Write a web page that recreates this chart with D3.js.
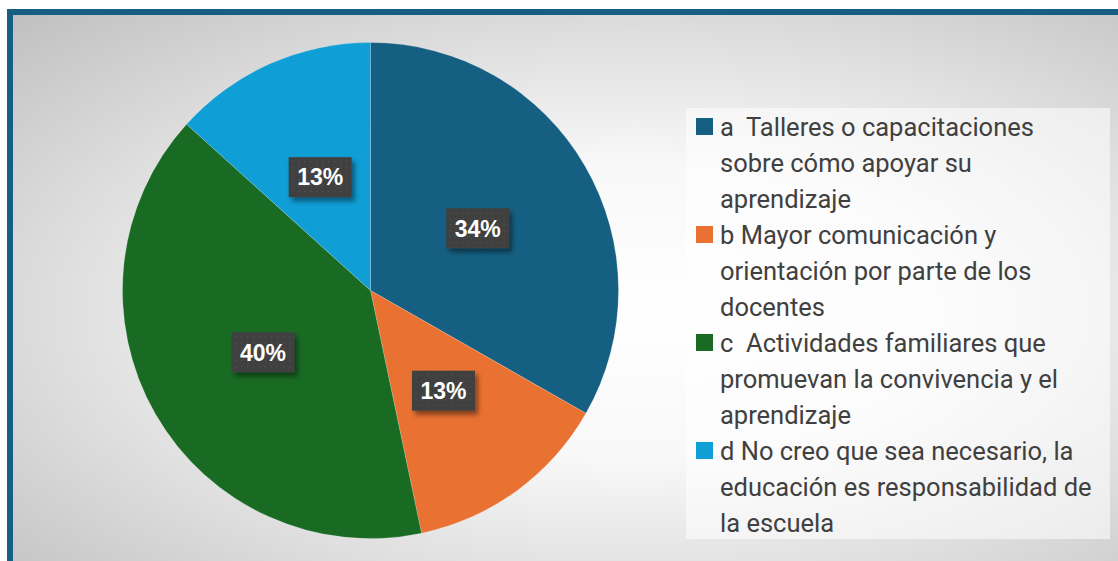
<!DOCTYPE html>
<html>
<head>
<meta charset="utf-8">
<script src="https://cdn.jsdelivr.net/npm/d3@7"></script>
<style>
  html, body { margin: 0; padding: 0; background: #ffffff; }
  svg { display: block; }
  .leg text { white-space: pre; }
</style>
</head>
<body>
<svg id="chart" width="1118" height="561"></svg>
<script>
// ---- data ----
const categories = ["a", "b", "c", "d"];
const values = [33.25, 13.45, 40.0, 13.3];          // slice shares
const valueLabels = ["34%", "13%", "40%", "13%"];    // data labels as printed
const colors = ["#156082", "#E97132", "#196B24", "#0F9ED5"];
const legendLines = [
  ["a  Talleres o capacitaciones", "sobre cómo apoyar su", "aprendizaje"],
  ["b Mayor comunicación y", "orientación por parte de los", "docentes"],
  ["c  Actividades familiares que", "promuevan la convivencia y el", "aprendizaje"],
  ["d No creo que sea necesario, la", "educación es responsabilidad de", "la escuela"]
];

const svg = d3.select("#chart");
const defs = svg.append("defs");

// background gradient
const bg = defs.append("radialGradient").attr("id", "bgGrad")
  .attr("cx", "0.5").attr("cy", "0.5").attr("r", "0.7");
[[0, "#ffffff"], [0.35, "#f8f8f8"], [0.65, "#dfdfdf"], [1, "#c0c0c0"]]
  .forEach(([o, c]) => bg.append("stop").attr("offset", o).attr("stop-color", c));

// label pattern (dotted dark)
const pat = defs.append("pattern").attr("id", "dots").attr("patternUnits", "userSpaceOnUse")
  .attr("width", 6).attr("height", 6);
pat.append("rect").attr("width", 6).attr("height", 6).attr("fill", "#404040");
pat.append("rect").attr("x", 2).attr("y", 2).attr("width", 1).attr("height", 1).attr("fill", "#5a5a5a");

const shadow = defs.append("filter").attr("id", "shadow")
  .attr("x", "-30%").attr("y", "-30%").attr("width", "160%").attr("height", "160%");
shadow.append("feDropShadow").attr("dx", 3).attr("dy", 4).attr("stdDeviation", 2.5)
  .attr("flood-color", "#000").attr("flood-opacity", 0.45);

// frame + background
svg.append("rect").attr("x", 10).attr("y", 12).attr("width", 1250).attr("height", 600)
  .attr("fill", "url(#bgGrad)").attr("stroke", "#165f82").attr("stroke-width", 6);

// ---- pie ----
const cx = 370.5, cy = 290.5, R = 248;
const pie = d3.pie().sort(null).value(d => d)(values);
const arc = d3.arc().innerRadius(0).outerRadius(R);
const g = svg.append("g").attr("transform", `translate(${cx},${cy})`);

g.selectAll("path.slice").data(pie).join("path")
  .attr("class", "slice")
  .attr("d", arc)
  .attr("fill", (d, i) => colors[i])
  .attr("stroke", "rgba(255,255,255,0.25)")
  .attr("stroke-width", 0.7);

// data labels
const bw = 63, bh = 40;
const lab = g.selectAll("g.lab").data(pie).join("g")
  .attr("class", "lab")
  .attr("transform", d => { const c = arc.centroid(d); return `translate(${c[0]},${c[1]})`; });
lab.append("rect")
  .attr("x", -bw / 2).attr("y", -bh / 2).attr("width", bw).attr("height", bh)
  .attr("fill", "url(#dots)").attr("filter", "url(#shadow)");
lab.append("text")
  .attr("text-anchor", "middle").attr("dy", "0.36em")
  .attr("font-family", "'Liberation Sans', Arial, sans-serif")
  .attr("font-weight", "bold").attr("font-size", 23).attr("fill", "#ffffff")
  .text((d, i) => valueLabels[i]);

// ---- legend ----
const lx = 686, ly = 108, lw = 424, lh = 431;
svg.append("rect").attr("x", lx).attr("y", ly).attr("width", lw).attr("height", lh)
  .attr("fill", "#ffffff").attr("fill-opacity", 0.55);

const lineH = 36, firstMid = 127;
const leg = svg.append("g").attr("class", "leg");
categories.forEach((c, i) => {
  const top = firstMid + i * 3 * lineH;
  leg.append("rect").attr("x", 696).attr("y", top - 9).attr("width", 17).attr("height", 17)
    .attr("fill", colors[i]);
  legendLines[i].forEach((t, j) => {
    leg.append("text")
      .attr("x", 720).attr("y", top + j * lineH).attr("dy", "0.35em")
      .attr("font-family", "Roboto, 'Noto Sans', sans-serif")
      .attr("font-size", 25.5).attr("fill", "#404040")
      .text(t);
  });
});
</script>
</body>
</html>
